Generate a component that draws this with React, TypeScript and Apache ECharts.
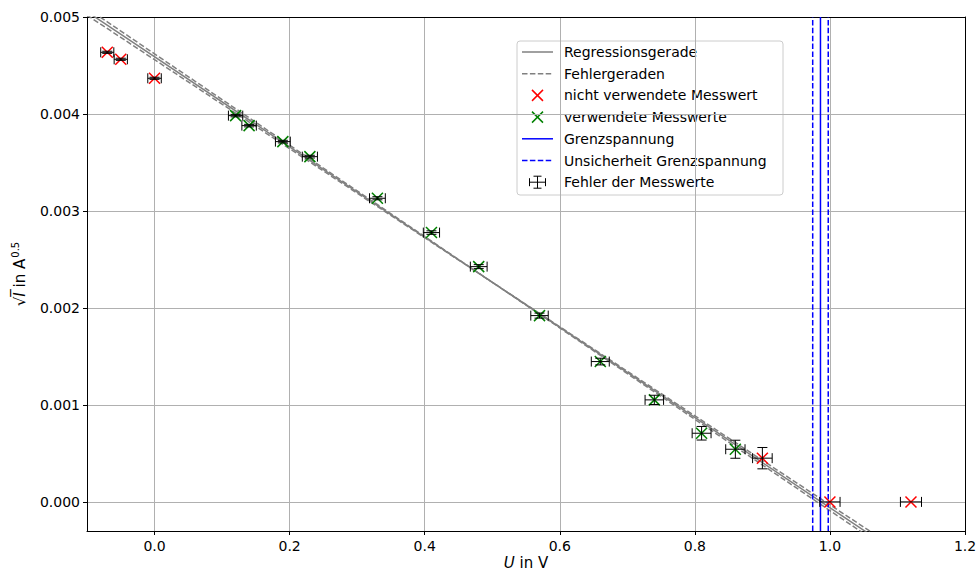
import React, { useEffect, useRef } from "react";
import * as echarts from "echarts";

// ---- data ----
const usedU = [0.12, 0.14, 0.19, 0.23, 0.33, 0.41, 0.48, 0.57, 0.66, 0.74, 0.81, 0.86];
const usedSqrtI = [0.003983, 0.00388, 0.003715, 0.00356, 0.003131, 0.002777, 0.002426, 0.001921, 0.001447, 0.001052, 0.000708, 0.000543];
const usedUErr = [0.0106, 0.0107, 0.011, 0.0112, 0.0117, 0.012, 0.0124, 0.0129, 0.0133, 0.0137, 0.014, 0.0143];
const usedIErr = [0.0000125, 0.000013, 0.0000135, 0.000014, 0.000016, 0.000018, 0.0000206, 0.000026, 0.0000345, 0.0000476, 0.00007, 0.000093];

const unusedU = [-0.07, -0.05, 0.0, 0.9, 1.0, 1.12];
const unusedSqrtI = [0.004636, 0.004564, 0.004368, 0.000451, 0.0, 0.0];
const unusedUErr = [0.0097, 0.0098, 0.01, 0.0145, 0.015, 0.0156];
const unusedIErr = [0.000011, 0.000011, 0.000011, 0.00011, 0, 0];

// regression line and error lines (end points)
const regLine = [[-0.1, 0.005055], [1.1, -0.000525]];
const errLineA = [[-0.1, 0.005091], [1.1, -0.000561]];
const errLineB = [[-0.1, 0.005019], [1.1, -0.000489]];

const grenzU = 0.986;
const grenzLow = 0.9745;
const grenzHigh = 0.9975;

const xTicks = [0, 0.2, 0.4, 0.6, 0.8, 1.0, 1.2];
const yTicks = [0, 0.001, 0.002, 0.003, 0.004, 0.005];
const X_MIN = -0.1, X_MAX = 1.2, Y_MIN = -0.0003, Y_MAX = 0.005;

const legendItems = [
  "Regressionsgerade",
  "Fehlergeraden",
  "nicht verwendete Messwert",
  "verwendete Messwerte",
  "Grenzspannung",
  "Unsicherheit Grenzspannung",
  "Fehler der Messwerte",
];

const FONT = "DejaVu Sans";
const DASH = [5.5, 2.4];

function markerSeries(xs: number[], ys: number[], color: string) {
  return {
    type: "custom",
    z: 3,
    data: xs.map((x, i) => [x, ys[i]]),
    encode: { x: 0, y: 1 },
    renderItem: (params: any, api: any) => {
      const p = api.coord([api.value(0), api.value(1)]);
      const s = 5.5;
      return {
        type: "group",
        children: [
          { type: "line", shape: { x1: p[0] - s, y1: p[1] - s, x2: p[0] + s, y2: p[1] + s }, style: { stroke: color, lineWidth: 1.5 } },
          { type: "line", shape: { x1: p[0] - s, y1: p[1] + s, x2: p[0] + s, y2: p[1] - s }, style: { stroke: color, lineWidth: 1.5 } },
        ],
      };
    },
  };
}

function errorSeries(xs: number[], ys: number[], xe: number[], ye: number[]) {
  return {
    type: "custom",
    z: 4,
    data: xs.map((x, i) => [x, ys[i], xe[i], ye[i]]),
    encode: { x: 0, y: 1 },
    renderItem: (params: any, api: any) => {
      const x = api.value(0), y = api.value(1), ex = api.value(2), ey = api.value(3);
      const l = api.coord([x - ex, y]);
      const r = api.coord([x + ex, y]);
      const cap = 5;
      const st = { stroke: "#000", lineWidth: 1 };
      const children: any[] = [
        { type: "line", shape: { x1: l[0], y1: l[1], x2: r[0], y2: r[1] }, style: st },
        { type: "line", shape: { x1: l[0], y1: l[1] - cap, x2: l[0], y2: l[1] + cap }, style: st },
        { type: "line", shape: { x1: r[0], y1: r[1] - cap, x2: r[0], y2: r[1] + cap }, style: st },
      ];
      if (ey > 0) {
        const t = api.coord([x, y + ey]);
        const b = api.coord([x, y - ey]);
        children.push(
          { type: "line", shape: { x1: t[0], y1: t[1], x2: b[0], y2: b[1] }, style: st },
          { type: "line", shape: { x1: t[0] - cap, y1: t[1], x2: t[0] + cap, y2: t[1] }, style: st },
          { type: "line", shape: { x1: b[0] - cap, y1: b[1], x2: b[0] + cap, y2: b[1] }, style: st }
        );
      }
      return { type: "group", children };
    },
  };
}

function buildLegend() {
  const x0 = 517, y0 = 41, w = 266, h = 154;
  const iconL = 522, iconR = 553, iconC = 537.5, textX = 564;
  const rowY = [52, 73.7, 95.4, 117.1, 138.8, 160.5, 182.2];
  const children: any[] = [
    { type: "rect", shape: { x: x0, y: y0, width: w, height: h, r: 3 }, style: { fill: "rgba(255,255,255,0.8)", stroke: "#cccccc", lineWidth: 1 } },
  ];
  const addLine = (y: number, color: string, dashed: boolean) =>
    children.push({ type: "line", shape: { x1: iconL, y1: y, x2: iconR, y2: y }, style: { stroke: color, lineWidth: 1.5, lineDash: dashed ? DASH : null } });
  const addX = (y: number, color: string) => {
    const s = 5.5;
    children.push(
      { type: "line", shape: { x1: iconC - s, y1: y - s, x2: iconC + s, y2: y + s }, style: { stroke: color, lineWidth: 1.5 } },
      { type: "line", shape: { x1: iconC - s, y1: y + s, x2: iconC + s, y2: y - s }, style: { stroke: color, lineWidth: 1.5 } }
    );
  };
  addLine(rowY[0], "#808080", false);
  addLine(rowY[1], "#808080", true);
  addX(rowY[2], "#ff0000");
  addX(rowY[3], "#008000");
  addLine(rowY[4], "#0000ff", false);
  addLine(rowY[5], "#0000ff", true);
  {
    const y = rowY[6], hw = 8, hh = 6, cap = 4, st = { stroke: "#000", lineWidth: 1 };
    children.push(
      { type: "line", shape: { x1: iconC - hw, y1: y, x2: iconC + hw, y2: y }, style: st },
      { type: "line", shape: { x1: iconC - hw, y1: y - cap, x2: iconC - hw, y2: y + cap }, style: st },
      { type: "line", shape: { x1: iconC + hw, y1: y - cap, x2: iconC + hw, y2: y + cap }, style: st },
      { type: "line", shape: { x1: iconC, y1: y - hh, x2: iconC, y2: y + hh }, style: st },
      { type: "line", shape: { x1: iconC - cap, y1: y - hh, x2: iconC + cap, y2: y - hh }, style: st },
      { type: "line", shape: { x1: iconC - cap, y1: y + hh, x2: iconC + cap, y2: y + hh }, style: st }
    );
  }
  legendItems.forEach((t, i) => {
    children.push({
      type: "text",
      style: { x: textX, y: rowY[i], text: t, fill: "#000", font: `14px '${FONT}'`, textVerticalAlign: "middle", textAlign: "left" },
    });
  });
  return { type: "group", z: 100, children };
}

export default function App() {
  const ref = useRef<HTMLDivElement>(null);
  useEffect(() => {
    if (!ref.current) return;
    const chart = echarts.init(ref.current, null, { renderer: "svg" });
    const axisLabelCommon = { color: "#000", fontSize: 14, fontFamily: FONT };
    const option: any = {
      animation: false,
      backgroundColor: "#ffffff",
      grid: { left: 87, right: 12, top: 17, bottom: 41, containLabel: false, outerBoundsMode: "none" },
      xAxis: [
        {
          type: "value",
          min: X_MIN,
          max: X_MAX,
          position: "bottom",
          axisLine: { show: true, onZero: false, lineStyle: { color: "#000", width: 1 } },
          axisTick: { show: true, inside: false, length: 4, customValues: xTicks, lineStyle: { color: "#000", width: 1 } },
          axisLabel: { ...axisLabelCommon, customValues: xTicks, margin: 8, formatter: (v: number) => v.toFixed(1) },
          splitLine: { show: true, lineStyle: { color: "#b0b0b0", width: 1 } },
          name: "{i|U} in V",
          nameLocation: "middle",
          nameMoveOverlap: false,
          nameGap: 23,
          nameTextStyle: {
            color: "#000",
            fontSize: 15,
            fontFamily: FONT,
            lineHeight: 17,
            rich: { i: { fontStyle: "italic", fontSize: 15, lineHeight: 17, fontFamily: FONT, color: "#000" } },
          },
        },
        {
          type: "value",
          min: X_MIN,
          max: X_MAX,
          position: "top",
          axisLine: { show: true, onZero: false, lineStyle: { color: "#000", width: 1 } },
          axisTick: { show: false },
          axisLabel: { show: false },
          splitLine: { show: false },
        },
      ],
      yAxis: [
        {
          type: "value",
          min: Y_MIN,
          max: Y_MAX,
          position: "left",
          axisLine: { show: true, onZero: false, lineStyle: { color: "#000", width: 1 } },
          axisTick: { show: true, inside: false, length: 4, customValues: yTicks, lineStyle: { color: "#000", width: 1 } },
          axisLabel: { ...axisLabelCommon, customValues: yTicks, margin: 7, formatter: (v: number) => v.toFixed(3) },
          splitLine: { show: true, lineStyle: { color: "#b0b0b0", width: 1 } },
          name: "{s|√}{i|I\u0305}{n| in A}{p|0.5}",
          nameLocation: "middle",
          nameMoveOverlap: false,
          nameGap: 58,
          nameTextStyle: {
            color: "#000",
            fontSize: 15,
            fontFamily: FONT,
            rich: {
              s: { fontSize: 15, fontFamily: FONT, color: "#000" },
              i: { fontSize: 15, fontFamily: FONT, fontStyle: "italic", color: "#000" },
              n: { fontSize: 15, fontFamily: FONT, color: "#000" },
              p: { fontSize: 10, fontFamily: FONT, color: "#000", verticalAlign: "top", padding: [0, 0, 9, 1] },
            },
          },
        },
        {
          type: "value",
          min: Y_MIN,
          max: Y_MAX,
          position: "right",
          axisLine: { show: true, onZero: false, lineStyle: { color: "#000", width: 1 } },
          axisTick: { show: false },
          axisLabel: { show: false },
          splitLine: { show: false },
        },
      ],
      series: [
        { name: "Regressionsgerade", type: "line", z: 2, symbol: "none", clip: true, data: regLine, lineStyle: { color: "#808080", width: 1.5 } },
        { name: "Fehlergeraden", type: "line", z: 2, symbol: "none", clip: true, data: errLineA, lineStyle: { color: "#808080", width: 1.5, type: DASH } },
        { name: "Fehlergeraden", type: "line", z: 2, symbol: "none", clip: true, data: errLineB, lineStyle: { color: "#808080", width: 1.5, type: DASH } },
        { name: "Grenzspannung", type: "line", z: 2, symbol: "none", data: [[grenzU, Y_MIN], [grenzU, Y_MAX]], lineStyle: { color: "#0000ff", width: 1.5 } },
        { name: "Unsicherheit Grenzspannung", type: "line", z: 2, symbol: "none", data: [[grenzLow, Y_MIN], [grenzLow, Y_MAX]], lineStyle: { color: "#0000ff", width: 1.5, type: DASH } },
        { name: "Unsicherheit Grenzspannung", type: "line", z: 2, symbol: "none", data: [[grenzHigh, Y_MIN], [grenzHigh, Y_MAX]], lineStyle: { color: "#0000ff", width: 1.5, type: DASH } },
        markerSeries(unusedU, unusedSqrtI, "#ff0000"),
        markerSeries(usedU, usedSqrtI, "#008000"),
        errorSeries(unusedU, unusedSqrtI, unusedUErr, unusedIErr),
        errorSeries(usedU, usedSqrtI, usedUErr, usedIErr),
      ],
      graphic: [buildLegend()],
    };
    chart.setOption(option);
    return () => chart.dispose();
  }, []);
  return (
    <div
      ref={ref}
      style={{ position: "fixed", left: 0, top: 0, width: 977, height: 572, background: "#fff" }}
    />
  );
}
